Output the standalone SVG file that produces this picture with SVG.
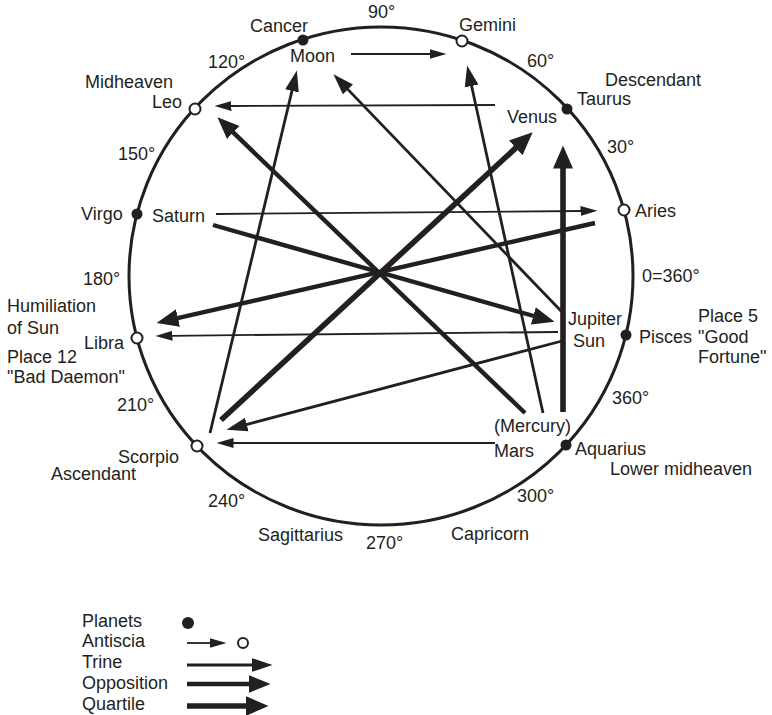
<svg xmlns="http://www.w3.org/2000/svg" width="772" height="715" viewBox="0 0 772 715">
<style>
text{font-family:"Liberation Sans",Arial,Helvetica,sans-serif;font-size:18px;fill:#231f20}
.wheel{fill:none;stroke:#231f20;stroke-width:3}
.planet{fill:#231f20}
.anti{fill:#fff;stroke:#231f20;stroke-width:2}
.thin{stroke:#231f20;stroke-width:1.8;fill:none}
.trine{stroke:#231f20;stroke-width:2.8;fill:none}
.opp{stroke:#231f20;stroke-width:4.4;fill:none}
.quart{stroke:#231f20;stroke-width:5.6;fill:none}
</style>
<defs>
<marker id="hThin" markerUnits="userSpaceOnUse" markerWidth="20" markerHeight="14" viewBox="0 -7 20 14" refX="0.5" refY="0" orient="auto"><path d="M0,-5 L17,0 L0,5 Z" fill="#231f20"/></marker>
<marker id="hTrine" markerUnits="userSpaceOnUse" markerWidth="24" markerHeight="18" viewBox="0 -9 24 18" refX="0.5" refY="0" orient="auto"><path d="M0,-7 L21,0 L0,7 Z" fill="#231f20"/></marker>
<marker id="hOpp" markerUnits="userSpaceOnUse" markerWidth="26" markerHeight="22" viewBox="0 -11 26 22" refX="0.5" refY="0" orient="auto"><path d="M0,-9 L22,0 L0,9 Z" fill="#231f20"/></marker>
<marker id="hQuart" markerUnits="userSpaceOnUse" markerWidth="26" markerHeight="24" viewBox="0 -12 26 24" refX="0.5" refY="0" orient="auto"><path d="M0,-10 L23,0 L0,10 Z" fill="#231f20"/></marker>
</defs>

<g id="wheel">
<ellipse class="wheel" cx="381" cy="276" rx="252" ry="249"/>
</g>

<g id="degrees">
<text x="368" y="18">90°</text>
<text x="527" y="67">60°</text>
<text x="607" y="153">30°</text>
<text x="642" y="282">0=360°</text>
<text x="612" y="404">360°</text>
<text x="517" y="502">300°</text>
<text x="366" y="549">270°</text>
<text x="208" y="507">240°</text>
<text x="117" y="411">210°</text>
<text x="83" y="285">180°</text>
<text x="118" y="160">150°</text>
<text x="208" y="68">120°</text>
</g>

<g id="connectors">
<line class="thin" x1="351" y1="54" x2="430" y2="54" marker-end="url(#hThin)"/>
<line class="thin" x1="495" y1="105" x2="231" y2="106" marker-end="url(#hThin)"/>
<line class="thin" x1="216" y1="214" x2="581" y2="211" marker-end="url(#hThin)"/>
<line class="thin" x1="558" y1="332" x2="172" y2="335.8" marker-end="url(#hThin)"/>
<line class="thin" x1="495" y1="443" x2="233" y2="443" marker-end="url(#hThin)"/>
<line class="trine" x1="210" y1="433" x2="292.1" y2="90.4" marker-end="url(#hTrine)"/>
<line class="trine" x1="543" y1="413" x2="471.5" y2="85.5" marker-end="url(#hTrine)"/>
<line class="trine" x1="562" y1="312" x2="347.6" y2="89.1" marker-end="url(#hTrine)"/>
<line class="trine" x1="562" y1="341" x2="246.3" y2="424.6" marker-end="url(#hTrine)"/>
<line class="opp" x1="525" y1="413" x2="232.9" y2="132.2" marker-end="url(#hOpp)"/>
<line class="opp" x1="213" y1="225" x2="533.8" y2="316" marker-end="url(#hOpp)"/>
<line class="opp" x1="595" y1="223" x2="177.5" y2="318.1" marker-end="url(#hOpp)"/>
<line class="quart" x1="221" y1="420" x2="516.1" y2="147.6" marker-end="url(#hQuart)"/>
<line class="quart" x1="563" y1="412" x2="563" y2="168" marker-end="url(#hQuart)"/>
</g>

<g id="cancer"><circle class="planet" cx="303" cy="40" r="5.5"/><text x="250" y="32">Cancer</text><text x="290" y="62">Moon</text></g>
<g id="gemini"><circle class="anti" cx="462" cy="41" r="5.5"/><text x="459" y="31">Gemini</text></g>
<g id="leo"><circle class="anti" cx="195" cy="109" r="5.5"/><text x="85" y="88">Midheaven</text><text x="152" y="108">Leo</text></g>
<g id="taurus"><circle class="planet" cx="567" cy="109" r="5.5"/><text x="605" y="86">Descendant</text><text x="577" y="105">Taurus</text><text x="507" y="123">Venus</text></g>
<g id="virgo"><circle class="planet" cx="137" cy="214" r="5.5"/><text x="81" y="220">Virgo</text><text x="152" y="222">Saturn</text></g>
<g id="aries"><circle class="anti" cx="624" cy="210" r="5.5"/><text x="635" y="217">Aries</text></g>
<g id="libra"><circle class="anti" cx="137" cy="338" r="5.5"/><text x="7" y="312">Humiliation</text><text x="7" y="334">of Sun</text><text x="84" y="349">Libra</text><text x="7" y="363">Place 12</text><text x="7" y="383">"Bad Daemon"</text></g>
<g id="pisces"><circle class="planet" cx="626" cy="335" r="5.5"/><text x="568" y="325">Jupiter</text><text x="573" y="347">Sun</text><text x="639" y="343">Pisces</text><text x="698" y="322">Place 5</text><text x="698" y="343">"Good</text><text x="698" y="363">Fortune"</text></g>
<g id="scorpio"><circle class="anti" cx="197" cy="446" r="5.5"/><text x="118" y="463">Scorpio</text><text x="51" y="480">Ascendant</text></g>
<g id="aquarius"><circle class="planet" cx="566" cy="445" r="5.5"/><text x="494" y="432">(Mercury)</text><text x="494" y="457">Mars</text><text x="575" y="455">Aquarius</text><text x="610" y="475">Lower midheaven</text></g>
<g id="sagittarius"><text x="258" y="541">Sagittarius</text></g>
<g id="capricorn"><text x="451" y="540">Capricorn</text></g>

<g id="legend">
<text x="82" y="627">Planets</text>
<circle class="planet" cx="188" cy="623" r="6"/>
<text x="82" y="647">Antiscia</text>
<line class="thin" x1="187" y1="643" x2="210" y2="643" marker-end="url(#hThin)"/>
<circle class="anti" cx="243" cy="643" r="5"/>
<text x="82" y="668">Trine</text>
<line class="trine" x1="187" y1="665" x2="252" y2="665" marker-end="url(#hTrine)"/>
<text x="82" y="689">Opposition</text>
<line class="opp" x1="187" y1="684" x2="249" y2="684" marker-end="url(#hOpp)"/>
<text x="82" y="710">Quartile</text>
<line class="quart" x1="187" y1="706" x2="246" y2="706" marker-end="url(#hQuart)"/>
</g>
</svg>
